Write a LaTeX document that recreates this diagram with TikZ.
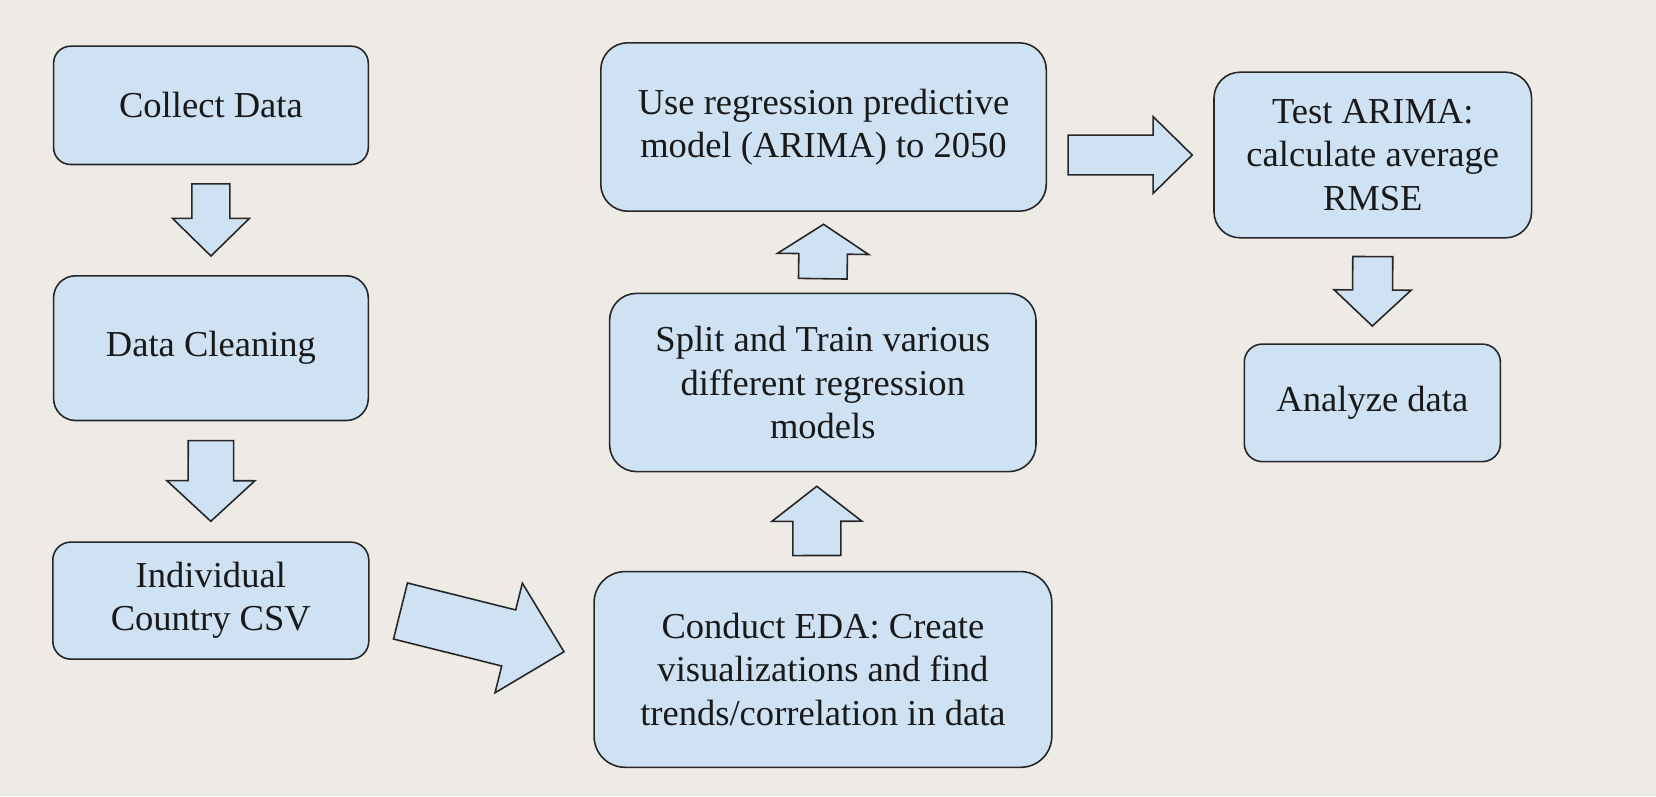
\documentclass[tikz,border=0pt]{standalone}
\usepackage{fontspec}
\setmainfont{Liberation Serif}
\usetikzlibrary{calc, positioning}
\definecolor{paper}{RGB}{238,234,230}
\definecolor{boxblue}{RGB}{207,226,243}
\definecolor{edge}{RGB}{38,38,38}

% block arrow: tail, tip, half shaft, half head, head length
\newcommand{\blockarrow}[5]{%
	\coordinate (ba-t) at (#1);
	\coordinate (ba-p) at (#2);
	\coordinate (ba-h) at ($(ba-p)!#5!(ba-t)$);
	\draw [arrowbox] ($(ba-t)!#3!90:(ba-p)$) -- ($(ba-h)!#3!90:(ba-p)$) -- ($(ba-h)!#4!90:(ba-p)$) -- (ba-p)
	-- ($(ba-h)!#4!-90:(ba-p)$) -- ($(ba-h)!#3!-90:(ba-p)$) -- ($(ba-t)!#3!-90:(ba-p)$) -- cycle;}

\tikzset{
	stepbox/.style={draw=edge, line width=0.45pt, fill=boxblue, text=black!90, inner sep=0pt,
		align=center, anchor=north west, font=\fontsize{10.4}{12.3}\selectfont},
	arrowbox/.style={draw=edge, line width=0.45pt, fill=boxblue, line join=miter}
}

\begin{document}
\begin{tikzpicture}
		\fill[paper] (0,0) rectangle (16.56,-7.96);
		\useasboundingbox (0,0) rectangle (16.56,-7.96);
		
		%----------------------------------------------------------------
		\node(collect) [stepbox, minimum width=3.147cm, minimum height=1.183cm, rounded corners=0.17cm] at (0.528,-0.454) {Collect Data};
		\node(cleaning) [stepbox, minimum width=3.147cm, minimum height=1.447cm, rounded corners=0.22cm] at (0.528,-2.75) {Data Cleaning};
		\node(csv) [stepbox, minimum width=3.16cm, minimum height=1.17cm, rounded corners=0.18cm] at (0.52,-5.413) {Individual \\ Country CSV};
		
		%----------------------------------------------------------------
		\node(eda) [stepbox, minimum width=4.577cm, minimum height=1.957cm, rounded corners=0.31cm] at (5.933,-5.708) {Conduct EDA: Create \\ visualizations and find \\ trends/correlation in data};
		\node(split) [stepbox, minimum width=4.264cm, minimum height=1.782cm, rounded corners=0.27cm] at (6.088,-2.926) {Split and Train various \\ different regression \\ models};
		\node(use) [stepbox, minimum width=4.455cm, minimum height=1.684cm, rounded corners=0.27cm] at (6.0,-0.42) {Use regression predictive \\ model (ARIMA) to 2050};
		
		%----------------------------------------------------------------
		\node(test) [stepbox, minimum width=3.176cm, minimum height=1.656cm, rounded corners=0.26cm] at (12.132,-0.714) {Test ARIMA: \\ calculate average \\ RMSE};
		\node(analyze) [stepbox, minimum width=2.561cm, minimum height=1.175cm, rounded corners=0.18cm] at (12.435,-3.433) {Analyze data};
		
		%----------------------------------------------------------------
		\blockarrow{$(collect.south)+(0,-0.186)$}{$(cleaning.north)+(0,0.19)$}{0.19cm}{0.385cm}{0.377cm}
		\blockarrow{$(cleaning.south)+(0,-0.193)$}{$(csv.north)+(0,0.20)$}{0.227cm}{0.44cm}{0.406cm}
		\blockarrow{$(csv.east)+(0.309,-0.104)$}{$(eda.west)+(-0.293,0.177)$}{0.289cm}{0.565cm}{0.57cm}
		\blockarrow{$(eda.north)+(-0.06,0.153)$}{$(split.south)+(-0.06,-0.139)$}{0.24cm}{0.45cm}{0.35cm}
		\blockarrow{$(split.north)+(0,0.139)$}{$(use.south)+(0,-0.123)$}{0.243cm}{0.455cm}{0.296cm}
		\blockarrow{$(use.east |- test.west)+(0.21,0)$}{$(test.west)+(-0.21,0)$}{0.199cm}{0.383cm}{0.39cm}
		\blockarrow{$(test.south)+(0,-0.18)$}{$(analyze.north)+(0,0.173)$}{0.2cm}{0.385cm}{0.36cm}
		
\end{tikzpicture}
\end{document}
